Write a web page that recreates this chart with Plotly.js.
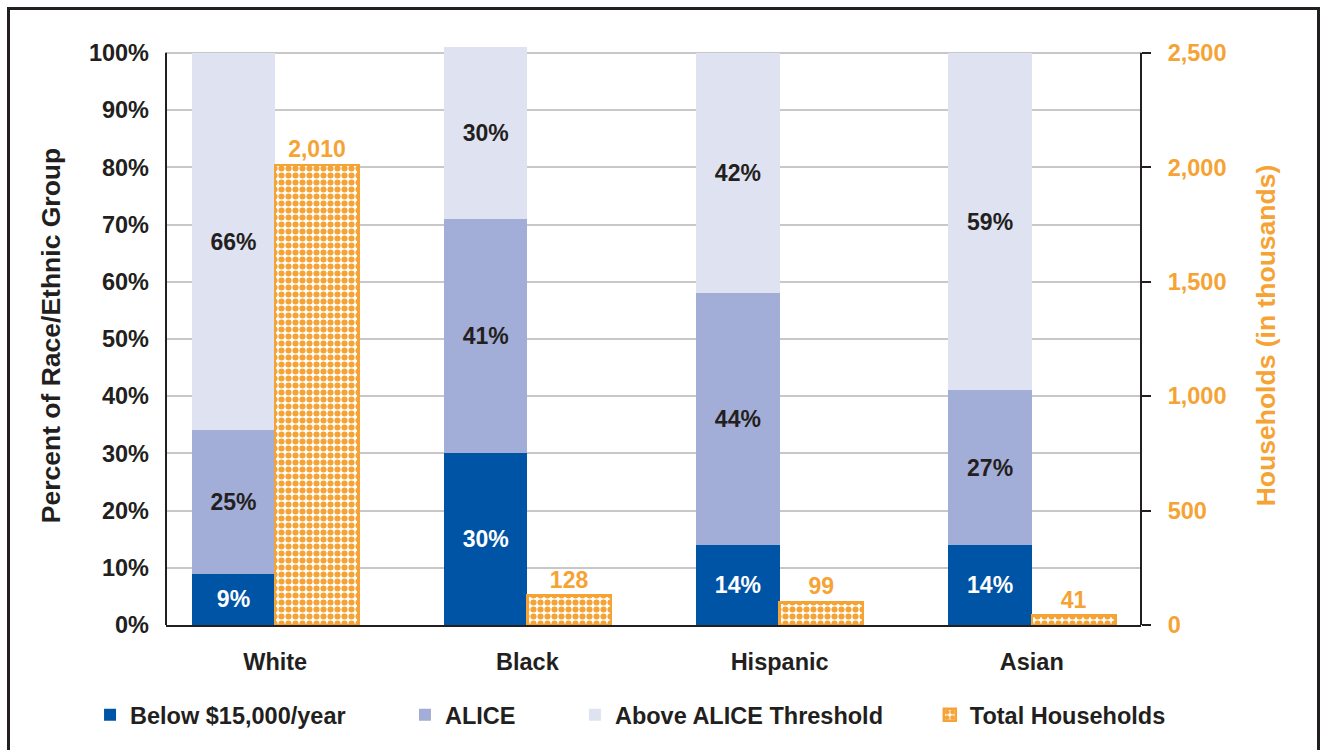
<!DOCTYPE html>
<html><head><meta charset="utf-8">
<script src="https://cdn.plot.ly/plotly-3.0.1.min.js"></script>
<style>
html,body{margin:0;padding:0;background:#fff;overflow:hidden}
#chart{width:1325px;height:750px}
#frame{position:absolute;left:7px;top:7px;width:1307px;height:790px;border:3px solid #231F20;pointer-events:none}
</style></head><body>
<div id="chart"></div><div id="frame"></div>
<script>
const categories = ['White', 'Black', 'Hispanic', 'Asian'];
const belowPct = [9, 30, 14, 14];
const alicePct = [25, 41, 44, 27];
const abovePct = [66, 30, 42, 59];
const totalHouseholds = [2010, 128, 99, 41];
const pctTicks = [0,10,20,30,40,50,60,70,80,90,100];

const DARK = '#231F20';
const ORANGE = '#F6A335';
const FONT = 'Liberation Sans, Arial, sans-serif';
const BW = 0.331;
const FS = 23.5;

function pctTrace(name, vals, color, txtColor, legendId) {
  return {
    type: 'bar', x: categories, y: vals, name: name,
    marker: {color: color, line: {width: 0}},
    width: BW, offset: -BW,
    text: vals.map(v => v + '%'),
    textposition: 'inside', insidetextanchor: 'middle',
    textfont: {family: FONT, size: 23, weight: 700, color: txtColor},
    legend: legendId, hoverinfo: 'x+y+name'
  };
}

const traces = [
  pctTrace('Below $15,000/year', belowPct, '#0054A6', '#FFFFFF', 'legend'),
  pctTrace('ALICE', alicePct, '#A3AED8', DARK, 'legend2'),
  pctTrace('Above ALICE Threshold', abovePct, '#DFE2F1', DARK, 'legend3'),
  {
    type: 'bar', x: categories, y: totalHouseholds, name: 'Total Households',
    yaxis: 'y2', width: BW, offset: 0,
    marker: {color: ORANGE, line: {color: ORANGE, width: 2.5},
             pattern: {shape: '.', fgcolor: ORANGE, bgcolor: '#FFFFFF', size: 7, solidity: 0.6}},
    text: totalHouseholds.map(v => v.toLocaleString('en-US')),
    textposition: 'outside', cliponaxis: false,
    textfont: {family: FONT, size: 23, weight: 700, color: ORANGE},
    legend: 'legend4'
  }
];

function leg(x) {
  return {orientation: 'h', x: x, xanchor: 'left', y: -0.1554, yanchor: 'middle',
          bgcolor: 'rgba(0,0,0,0)', borderwidth: 0,
          font: {family: FONT, size: FS, weight: 700, color: DARK}};
}

const layout = {
  width: 1325, height: 750,
  margin: {l: 166, r: 184, t: 46, b: 125},
  paper_bgcolor: '#FFFFFF', plot_bgcolor: '#FFFFFF',
  barmode: 'stack',
  font: {family: FONT, color: DARK},
  showlegend: true,
  xaxis: {
    type: 'category', range: [-0.433, 3.433],
    showline: true, linecolor: DARK, linewidth: 2, mirror: false,
    ticks: '', showgrid: false, zeroline: false,
    tickfont: {family: FONT, size: FS, weight: 700, color: DARK},
    ticklabelstandoff: 15
  },
  yaxis: {
    range: [0, 101.2], tickmode: 'array', tickvals: pctTicks, ticktext: pctTicks.map(v => v + '%'),
    showline: false, showgrid: true, gridcolor: '#C8C8C8', gridwidth: 1.5, zeroline: false,
    ticks: '', ticklabelstandoff: 16,
    tickfont: {family: FONT, size: FS, weight: 700, color: DARK},
    title: {text: 'Percent of Race/Ethnic Group', font: {family: FONT, size: 26.5, weight: 700, color: DARK}, standoff: 20}
  },
  yaxis2: {
    overlaying: 'y', side: 'right', range: [0, 2530],
    tickmode: 'linear', tick0: 0, dtick: 500, tickformat: ',d',
    showline: false, showgrid: false, zeroline: false,
    ticks: 'outside', ticklen: 9, tickwidth: 2, tickcolor: DARK, ticklabelstandoff: 12,
    tickfont: {family: FONT, size: FS, weight: 700, color: ORANGE},
    title: {text: 'Households (in thousands)', font: {family: FONT, size: 26.5, weight: 700, color: ORANGE}, standoff: 30}
  },
  legend: leg(-0.0779),
  legend2: leg(0.2451),
  legend3: leg(0.4194),
  legend4: leg(0.7834),
  shapes: [
    {type: 'line', xref: 'paper', yref: 'y', x0: 0, x1: 0, y0: 0, y1: 100, line: {color: DARK, width: 2}, layer: 'above'},
    {type: 'line', xref: 'paper', yref: 'y', x0: 1, x1: 1, y0: 0, y1: 100, line: {color: DARK, width: 2}, layer: 'above'}
  ]
};

Plotly.newPlot('chart', traces, layout, {displayModeBar: false, responsive: false});
</script>
</body></html>
